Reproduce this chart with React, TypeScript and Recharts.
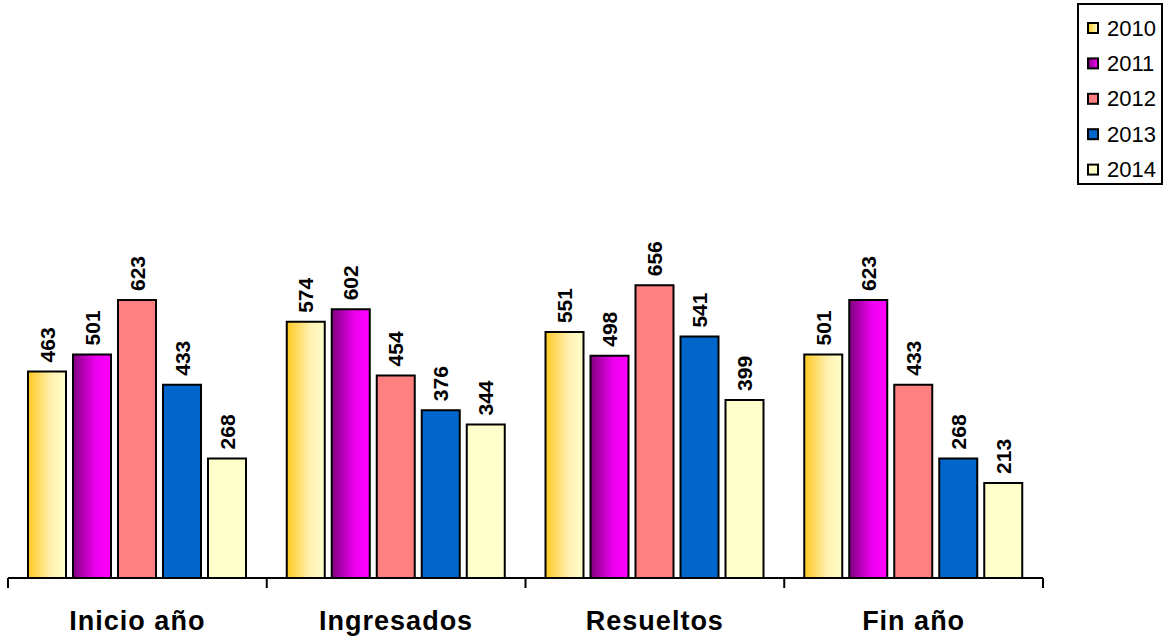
import { BarChart, Bar, XAxis, YAxis, LabelList } from 'recharts';

const categories = ['Inicio año', 'Ingresados', 'Resueltos', 'Fin año'];
const v2010 = [463, 574, 551, 501];
const v2011 = [501, 602, 498, 623];
const v2012 = [623, 454, 656, 433];
const v2013 = [433, 376, 541, 268];
const v2014 = [268, 344, 399, 213];

const series = [
  { key: 'y2010', name: '2010', values: v2010, fill: 'url(#g2010)', swatch: 'url(#s2010)' },
  { key: 'y2011', name: '2011', values: v2011, fill: 'url(#g2011)', swatch: 'url(#s2011)' },
  { key: 'y2012', name: '2012', values: v2012, fill: '#FF8080', swatch: '#FF8080' },
  { key: 'y2013', name: '2013', values: v2013, fill: '#0066CC', swatch: '#0066CC' },
  { key: 'y2014', name: '2014', values: v2014, fill: '#FFFFCC', swatch: '#FFFFCC' },
];

const data = categories.map((name, i) => {
  const row: Record<string, string | number> = { name };
  series.forEach((s) => {
    row[s.key] = s.values[i];
  });
  return row;
});

const W = 1165;
const H = 639;
const margin = { top: 221, right: 122, left: 8, bottom: 0 };
const band = (W - margin.left - margin.right) / categories.length;
const FONT = '"Liberation Sans", Arial, Helvetica, sans-serif';

function CategoryTick(props: any) {
  const { x, y, payload, index } = props;
  const left = x - band / 2;
  return (
    <g>
      <line x1={left} y1={y} x2={left} y2={y + 10} stroke="#000" strokeWidth={2} />
      {index === categories.length - 1 && (
        <line x1={left + band} y1={y} x2={left + band} y2={y + 10} stroke="#000" strokeWidth={2} />
      )}
      <text
        x={x}
        y={y + 52}
        textAnchor="middle"
        fontFamily={FONT}
        fontWeight="bold"
        fontSize={27}
        letterSpacing={1}
        fill="#000"
      >
        {payload.value}
      </text>
    </g>
  );
}

function ValueLabel(props: any) {
  const { x, y, width, value } = props;
  const cx = x + width / 2;
  const ty = y - 9;
  return (
    <text
      transform={`translate(${cx},${ty}) rotate(-90)`}
      textAnchor="start"
      dominantBaseline="central"
      fontFamily={FONT}
      fontWeight="bold"
      fontSize={21}
      fill="#000"
    >
      {value}
    </text>
  );
}

function LegendBox() {
  return (
    <div
      style={{
        position: 'absolute',
        left: 1077,
        top: 3,
        width: 82,
        height: 178,
        border: '2px solid #000',
        background: '#fff',
      }}
    >
      <svg width={82} height={178} style={{ display: 'block' }}>
        <defs>
          <linearGradient id="s2010" x1="0" y1="0" x2="1" y2="0">
            <stop offset="0%" stopColor="#FFC820" />
            <stop offset="100%" stopColor="#FFFFCC" />
          </linearGradient>
          <linearGradient id="s2011" x1="0" y1="0" x2="1" y2="0">
            <stop offset="0%" stopColor="#800080" />
            <stop offset="100%" stopColor="#FF00FF" />
          </linearGradient>
        </defs>
        {series.map((s, i) => {
          const cy = 23 + i * 35.4;
          return (
            <g key={s.key}>
              <rect x={9} y={cy - 5} width={10} height={10} fill={s.swatch} stroke="#000" strokeWidth={2} />
              <text x={28} y={cy} dominantBaseline="central" fontFamily={FONT} fontSize={22} fill="#000">
                {s.name}
              </text>
            </g>
          );
        })}
      </svg>
    </div>
  );
}

export default function App() {
  return (
    <div style={{ width: W, height: H, position: 'relative', background: '#fff' }}>
      <style>{'body{margin:0;}'}</style>
      <BarChart
        width={W}
        height={H}
        data={data}
        margin={margin}
        barCategoryGap={20}
        barGap={7}
      >
        <defs>
          <linearGradient id="g2010" x1="0" y1="0" x2="1" y2="0">
            <stop offset="0%" stopColor="#FFC820" />
            <stop offset="60%" stopColor="#FFF0B0" />
            <stop offset="100%" stopColor="#FFFFCC" />
          </linearGradient>
          <linearGradient id="g2011" x1="0" y1="0" x2="1" y2="0">
            <stop offset="0%" stopColor="#800080" />
            <stop offset="60%" stopColor="#EE00EE" />
            <stop offset="100%" stopColor="#FF00FF" />
          </linearGradient>
        </defs>
        <XAxis
          dataKey="name"
          height={61}
          axisLine={{ stroke: '#000', strokeWidth: 2 }}
          tickLine={false}
          tickSize={0}
          tickMargin={0}
          tick={<CategoryTick />}
          interval={0}
        />
        <YAxis hide domain={[0, 800]} />
        {series.map((s) => (
          <Bar
            key={s.key}
            dataKey={s.key}
            name={s.name}
            fill={s.fill}
            stroke="#000"
            strokeWidth={2}
            isAnimationActive={false}
          >
            <LabelList dataKey={s.key} content={<ValueLabel />} />
          </Bar>
        ))}
      </BarChart>
      <LegendBox />
    </div>
  );
}
